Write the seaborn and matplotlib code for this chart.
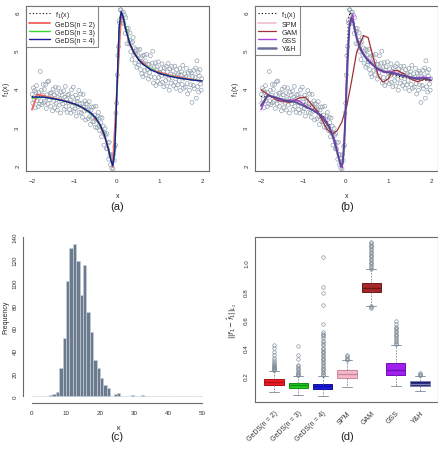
import numpy as np
import pandas as pd
import seaborn as sns
import matplotlib.pyplot as plt
from matplotlib.lines import Line2D

# ---- data ----
# simulated sample (same in panels a and b)
pt_x = [-1.995, -1.982, -1.968, -1.951, -1.937, -1.925, -1.908, -1.894, -1.881, -1.866,
        -1.852, -1.838, -1.823, -1.806, -1.795, -1.779, -1.764, -1.751, -1.735, -1.722,
        -1.708, -1.693, -1.677, -1.664, -1.649, -1.634, -1.621, -1.605, -1.591, -1.576,
        -1.562, -1.548, -1.533, -1.519, -1.504, -1.49, -1.475, -1.461, -1.447, -1.432,
        -1.418, -1.404, -1.389, -1.375, -1.36, -1.346, -1.331, -1.317, -1.302, -1.288,
        -1.274, -1.259, -1.245, -1.23, -1.216, -1.202, -1.187, -1.173, -1.158, -1.144,
        -1.13, -1.115, -1.101, -1.086, -1.072, -1.057, -1.043, -1.029, -1.014, -1.0,
        -0.986, -0.971, -0.957, -0.942, -0.928, -0.914, -0.899, -0.885, -0.87, -0.856,
        -0.841, -0.827, -0.813, -0.798, -0.784, -0.769, -0.755, -0.74, -0.726, -0.712,
        -0.697, -0.683, -0.668, -0.654, -0.64, -0.625, -0.611, -0.596, -0.582, -0.568,
        -0.553, -0.539, -0.524, -0.51, -0.496, -0.481, -0.467, -0.452, -0.438, -0.424,
        -0.409, -0.395, -0.38, -0.366, -0.352, -0.337, -0.323, -0.308, -0.294, -0.28,
        -0.265, -0.251, -0.237, -0.222, -0.208, -0.194, -0.179, -0.165, -0.151, -0.136,
        -0.122, -0.108, -0.094, -0.079, -0.065, -0.051, -0.037, -0.022, -0.008, 0.006,
        0.02, 0.035, 0.049, 0.063, 0.078, 0.092, 0.106, 0.121, 0.135, 0.15,
        0.164, 0.178, 0.193, 0.207, 0.222, 0.236, 0.25, 0.265, 0.279, 0.294,
        0.308, 0.323, 0.337, 0.351, 0.366, 0.38, 0.395, 0.409, 0.424, 0.438,
        0.453, 0.467, 0.482, 0.496, 0.51, 0.525, 0.539, 0.554, 0.568, 0.583,
        0.597, 0.611, 0.626, 0.64, 0.655, 0.669, 0.683, 0.698, 0.712, 0.727,
        0.741, 0.756, 0.77, 0.784, 0.799, 0.813, 0.828, 0.842, 0.856, 0.871,
        0.885, 0.9, 0.914, 0.929, 0.943, 0.957, 0.972, 0.986, 1.001, 1.015,
        1.03, 1.044, 1.058, 1.073, 1.087, 1.102, 1.116, 1.13, 1.145, 1.159,
        1.174, 1.188, 1.203, 1.217, 1.231, 1.246, 1.26, 1.275, 1.289, 1.303,
        1.318, 1.332, 1.347, 1.361, 1.376, 1.39, 1.404, 1.419, 1.433, 1.448,
        1.462, 1.477, 1.491, 1.505, 1.52, 1.534, 1.549, 1.563, 1.577, 1.592,
        1.606, 1.621, 1.635, 1.65, 1.664, 1.678, 1.693, 1.707, 1.722, 1.736,
        1.751, 1.764, 1.779, 1.794, 1.808, 1.822, 1.837, 1.851, 1.866, 1.88,
        1.895, 1.909, 1.923, 1.938, 1.952, 1.967, 1.981, 1.995]
pt_y = [3.85, 3.62, 4.02, 3.72, 3.95, 3.50, 3.90, 4.08, 3.68, 3.82,
        3.53, 3.90, 3.60, 4.45, 3.68, 3.96, 3.58, 3.83, 4.11, 3.63,
        3.98, 3.67, 4.11, 3.48, 3.84, 4.18, 3.60, 4.20, 3.71, 3.88,
        3.54, 3.89, 3.76, 3.42, 3.99, 3.67, 3.84, 3.50, 4.04, 3.62,
        3.89, 3.44, 3.77, 4.02, 3.57, 3.74, 3.36, 3.91, 3.68, 3.83,
        3.60, 3.94, 3.46, 3.78, 4.06, 3.53, 3.72, 3.38, 3.84, 3.64,
        3.85, 3.45, 3.71, 3.36, 3.97, 3.54, 3.78, 4.04, 3.41, 3.65,
        3.47, 3.83, 3.28, 3.67, 3.75, 3.53, 3.95, 3.38, 3.61, 3.86,
        3.36, 3.61, 3.25, 3.85, 3.51, 3.41, 3.68, 3.18, 3.60, 3.44,
        3.59, 3.21, 3.46, 3.66, 3.27, 3.06, 3.44, 3.52, 3.25, 3.13,
        3.52, 3.14, 3.31, 2.99, 3.54, 3.20, 2.98, 3.28, 3.38, 3.02,
        2.90, 3.25, 3.11, 2.74, 3.23, 2.86, 3.02, 2.52, 2.84, 2.96,
        2.78, 2.43, 2.82, 2.42, 2.58, 2.15, 2.60, 2.27, 2.01, 2.27,
        1.92, 2.16, 1.90, 2.27, 2.12, 2.48, 2.52, 3.36, 3.62, 4.36,
        4.87, 5.10, 5.78, 5.72, 6.06, 6.07, 5.88, 6.01, 5.71, 6.00,
        5.72, 5.92, 5.45, 5.86, 5.58, 5.18, 5.50, 5.58, 5.17, 5.27,
        5.46, 4.97, 5.19, 4.76, 5.22, 5.34, 4.88, 5.07, 4.67, 4.91,
        5.03, 4.56, 4.89, 5.01, 4.62, 4.70, 5.03, 4.50, 4.81, 4.39,
        4.86, 4.31, 4.68, 4.88, 4.48, 4.73, 4.36, 4.90, 4.50, 4.63,
        4.25, 4.64, 4.42, 4.86, 4.31, 4.52, 4.67, 4.98, 4.15, 4.55,
        4.29, 4.68, 4.08, 4.49, 4.57, 4.19, 4.70, 4.30, 4.42, 4.13,
        4.52, 4.34, 4.65, 4.17, 4.45, 4.05, 4.54, 4.35, 4.21, 4.58,
        4.07, 4.44, 4.66, 4.25, 3.96, 4.52, 4.38, 4.14, 4.58, 4.28,
        4.46, 4.08, 4.34, 4.59, 4.17, 4.01, 4.50, 4.36, 4.10, 4.39,
        4.21, 4.53, 3.95, 4.36, 4.44, 4.11, 4.61, 4.01, 4.27, 4.39,
        4.04, 4.31, 4.53, 4.13, 3.86, 4.41, 4.28, 3.96, 4.46, 4.10,
        4.41, 3.64, 4.32, 4.08, 4.48, 4.00, 4.30, 4.54, 3.75, 4.73,
        4.05, 4.43, 3.91, 4.33, 4.50, 4.12, 3.96, 4.26]

# true function f1(x)
true_x = [-2, -1.75, -1.5, -1.25, -1, -0.8, -0.6, -0.5, -0.4, -0.3, -0.25, -0.2, -0.15,
          -0.125, -0.1, -0.075, -0.05, -0.025, 0, 0.025, 0.05, 0.075, 0.1, 0.125, 0.15,
          0.2, 0.25, 0.3, 0.4, 0.5, 0.6, 0.8, 1, 1.25, 1.5, 1.75, 2]
true_y = [3.80, 3.77, 3.735, 3.68, 3.604, 3.508, 3.351, 3.231, 3.059, 2.80, 2.621, 2.40, 2.154,
          2.049, 2.0, 2.08, 2.40, 3.059, 4.0, 4.941, 5.60, 5.92, 6.0, 5.951, 5.846,
          5.60, 5.379, 5.20, 4.941, 4.769, 4.649, 4.492, 4.396, 4.318, 4.265, 4.228, 4.20]

# GeDS fits
geds2_x = [-2, -1.88, -1.8, -1.3, -0.9, -0.6, -0.4, -0.25, -0.17, -0.1, 0.1, 0.2, 0.3, 0.5, 0.8, 1.2, 1.6, 2.0]
geds2_y = [3.45, 3.84, 3.83, 3.70, 3.55, 3.35, 3.05, 2.62, 2.30, 1.95, 6.0, 5.6, 5.15, 4.78, 4.50, 4.36, 4.27, 4.20]
geds3_x = [-2, -1.7, -1.2, -0.8, -0.5, -0.3, -0.2, -0.15, -0.1, -0.05, 0, 0.05, 0.1, 0.15, 0.2, 0.3, 0.4, 0.6, 1.0, 1.5, 2]
geds3_y = [3.75, 3.78, 3.67, 3.50, 3.24, 2.82, 2.42, 2.17, 1.98, 2.35, 4.0, 5.6, 6.0, 5.88, 5.65, 5.2, 4.93, 4.64, 4.40, 4.27, 4.20]
geds4_x = [-2, -1.75, -1.5, -1.25, -1, -0.8, -0.6, -0.5, -0.4, -0.3, -0.2, -0.15, -0.1, -0.05, 0,
           0.05, 0.1, 0.15, 0.2, 0.3, 0.4, 0.5, 0.6, 0.8, 1, 1.25, 1.5, 1.75, 2]
geds4_y = [3.78, 3.78, 3.74, 3.68, 3.60, 3.50, 3.35, 3.23, 3.06, 2.80, 2.40, 2.15, 1.98, 2.40, 4.0,
           5.6, 6.02, 5.85, 5.58, 5.18, 4.94, 4.77, 4.65, 4.49, 4.40, 4.32, 4.27, 4.23, 4.20]

# competitor fits
spm_x = [-2, -1.8, -1.5, -1.2, -1.0, -0.8, -0.6, -0.4, -0.3, -0.2, -0.12, -0.08, -0.04, 0, 0.04,
         0.08, 0.12, 0.17, 0.25, 0.35, 0.5, 0.7, 0.9, 1.1, 1.3, 1.5, 1.7, 1.85, 2.0]
spm_y = [3.60, 3.82, 3.72, 3.66, 3.58, 3.48, 3.30, 3.00, 2.75, 2.35, 2.00, 2.05, 2.60, 3.80, 5.0,
         5.75, 5.90, 5.75, 5.35, 5.02, 4.78, 4.57, 4.47, 4.42, 4.36, 4.30, 4.26, 4.27, 4.22]
gam_x = [-2, -1.8, -1.61, -1.34, -1.07, -0.95, -0.68, -0.45, -0.33, -0.21, -0.1, 0.02, 0.14, 0.25,
         0.41, 0.52, 0.64, 0.76, 0.87, 0.99, 1.11, 1.22, 1.38, 1.53, 1.69, 1.84, 2.0]
gam_y = [3.97, 3.82, 3.69, 3.64, 3.77, 3.77, 3.42, 2.94, 2.81, 2.90, 3.12, 3.55, 4.25, 4.95,
         5.39, 5.34, 4.82, 4.34, 4.17, 4.25, 4.47, 4.47, 4.38, 4.25, 4.18, 4.25, 4.21]
gss_x = [-2, -1.85, -1.7, -1.5, -1.3, -1.1, -0.9, -0.7, -0.5, -0.35, -0.25, -0.18, -0.12, -0.09,
         -0.06, -0.03, 0, 0.04, 0.08, 0.12, 0.16, 0.2, 0.25, 0.32, 0.45, 0.6, 0.75, 0.9, 1.05,
         1.2, 1.4, 1.6, 1.8, 2.0]
gss_y = [3.45, 3.82, 3.78, 3.68, 3.70, 3.68, 3.50, 3.40, 3.22, 2.90, 2.60, 2.25, 1.95, 1.92,
         2.20, 2.90, 3.90, 5.00, 5.70, 5.85, 5.95, 5.55, 5.30, 5.10, 4.85, 4.68, 4.50, 4.42, 4.45,
         4.40, 4.33, 4.28, 4.30, 4.28]
yh_x = [-2, -1.84, -1.6, -1.4, -1.2, -1.0, -0.8, -0.6, -0.4, -0.3, -0.2, -0.12, -0.08, -0.04, 0,
        0.04, 0.08, 0.13, 0.18, 0.25, 0.35, 0.5, 0.7, 0.9, 1.1, 1.3, 1.5, 1.7, 1.85, 2.0]
yh_y = [3.55, 3.83, 3.75, 3.68, 3.65, 3.55, 3.45, 3.30, 3.00, 2.70, 2.30, 1.98, 2.05, 2.60, 3.60,
        4.70, 5.60, 5.85, 5.70, 5.35, 5.00, 4.75, 4.55, 4.45, 4.40, 4.35, 4.30, 4.25, 4.28, 4.22]

# histogram of number of knots (bins of width 1 from 0 to 50)
hist_start = list(range(0, 50))
hist_counts = [0, 0, 0, 0, 0, 1, 2, 4, 25, 51,
               101, 130, 134, 119, 89, 115, 74, 56, 32, 25,
               16, 10, 7, 0, 2, 3, 0, 0, 0, 1,
               0, 0, 1, 0, 0, 0, 0, 0, 0, 0,
               0, 0, 0, 0, 0, 0, 0, 0, 0, 0]

# L2 distance boxplots
box_names = ['GeDS(n = 2)', 'GeDS(n = 3)', 'GeDS(n = 4)', 'SPM', 'GAM', 'GSS', 'Y&H']
box_q1 = [0.136, 0.112, 0.108, 0.188, 0.792, 0.207, 0.131]
box_med = [0.160, 0.134, 0.127, 0.214, 0.820, 0.243, 0.146]
box_q3 = [0.181, 0.153, 0.146, 0.240, 0.856, 0.295, 0.165]
box_lo = [0.089, 0.065, 0.060, 0.122, 0.699, 0.131, 0.094]
box_hi = [0.235, 0.200, 0.200, 0.311, 0.957, 0.420, 0.200]
out_geds2 = [0.24, 0.245, 0.25, 0.255, 0.26, 0.265, 0.27, 0.275, 0.28, 0.29, 0.30, 0.31, 0.33, 0.35, 0.37, 0.40, 0.42]
out_geds3 = [0.205, 0.21, 0.215, 0.22, 0.23, 0.24, 0.25, 0.26, 0.27, 0.28, 0.32, 0.35, 0.41]
out_geds4 = [0.205, 0.21, 0.22, 0.23, 0.24, 0.25, 0.26, 0.27, 0.28, 0.29, 0.30, 0.31, 0.32, 0.33,
             0.34, 0.35, 0.36, 0.37, 0.38, 0.39, 0.40, 0.42, 0.43, 0.44, 0.45, 0.47, 0.48, 0.49,
             0.50, 0.51, 0.57, 0.70, 0.79, 0.83, 1.04]
out_spm = [0.315, 0.32, 0.33, 0.34, 0.35]
out_gam = [0.68, 0.69, 0.695, 0.96, 0.97, 0.98, 0.99, 1.0, 1.01, 1.02, 1.03, 1.04, 1.05, 1.06,
           1.07, 1.08, 1.09, 1.10, 1.11, 1.12, 1.13, 1.14, 1.15]
out_gss = [0.425, 0.43, 0.44, 0.45, 0.46, 0.47, 0.48, 0.49, 0.50, 0.51, 0.52, 0.53, 0.54, 0.55, 0.57, 0.59]
out_yh = [0.205, 0.21, 0.215, 0.22]
box_colors = ['#ee1c24', '#22cc22', '#1a1ae6', '#f4b8c8', '#a5282c', '#a020f0', '#1c1c72']
box_edges = ['#b01018', '#129012', '#10109a', '#c88a9a', '#701818', '#7010b0', '#8080b0']

sns.set_theme(style='white')
plt.rcParams['font.family'] = ['Liberation Sans', 'DejaVu Sans']
plt.rcParams['mathtext.fontset'] = 'dejavusans'

W, H = 438, 452
fig = plt.figure(figsize=(W / 100, H / 100), dpi=100)


def px_box(l, t, r, b):
    return [l / W, 1 - b / H, (r - l) / W, (b - t) / H]


tick_kw = dict(labelsize=4.5, length=2.2, width=0.5, color='#555555', labelcolor='#333333')
pt_color = '#8d9cab'


def style_frame(ax):
    for s in ax.spines.values():
        s.set_color('#6a6a6a')
        s.set_linewidth(0.8)
    ax.tick_params(axis='both', **tick_kw)
    ax.tick_params(axis='x', pad=3)
    ax.tick_params(axis='y', pad=2)
    for lab in ax.get_yticklabels():
        lab.set_rotation(90)
        lab.set_va('center')


def sample_panel(ax):
    sns.scatterplot(x=pt_x, y=pt_y, ax=ax, marker='o', s=8, facecolor='none',
                    edgecolor=pt_color, linewidth=0.45, zorder=1)
    ax.set_xlim(-2.141, 2.165)
    ax.set_ylim(1.843, 6.165)
    ax.set_xticks([-2, -1, 0, 1, 2])
    ax.set_yticks([2, 3, 4, 5, 6])
    ax.set_xlabel('x', fontsize=5, labelpad=6)
    ax.set_ylabel('f$_1$(x)', fontsize=5, labelpad=2)
    style_frame(ax)


# (a) GeDS fits
ax_a = fig.add_axes(px_box(26, 7, 209, 172))
sample_panel(ax_a)
sns.lineplot(x=true_x, y=true_y, ax=ax_a, color='black', lw=0.8, ls=(0, (1, 2)), zorder=2)
sns.lineplot(x=geds2_x, y=geds2_y, ax=ax_a, color='#f26060', lw=1.3, zorder=3)
sns.lineplot(x=geds3_x, y=geds3_y, ax=ax_a, color='#30d830', lw=1.0, zorder=4)
sns.lineplot(x=geds4_x, y=geds4_y, ax=ax_a, color='#1a1aa0', lw=1.0, zorder=5)
h_a = [Line2D([], [], color='black', lw=0.8, ls=(0, (1, 2))),
       Line2D([], [], color='#f26060', lw=1.3),
       Line2D([], [], color='#30d830', lw=1.0),
       Line2D([], [], color='#1a1aa0', lw=1.0)]
leg = ax_a.legend(h_a, ['f$_1$(x)', 'GeDS(n = 2)', 'GeDS(n = 3)', 'GeDS(n = 4)'],
                  loc='upper left', fontsize=5, frameon=True, fancybox=False, borderaxespad=0,
                  handlelength=3, labelspacing=0.15, borderpad=0.4, handletextpad=0.8)
leg.get_frame().set_edgecolor('#6a6a6a')
leg.get_frame().set_linewidth(0.8)

# (b) competitors
ax_b = fig.add_axes(px_box(255, 7, 438, 172))
sample_panel(ax_b)
sns.lineplot(x=true_x, y=true_y, ax=ax_b, color='black', lw=0.8, ls=(0, (1, 2)), zorder=2)
sns.lineplot(x=spm_x, y=spm_y, ax=ax_b, color='#f2c2cf', lw=1.3, zorder=3)
sns.lineplot(x=gam_x, y=gam_y, ax=ax_b, color='#a23038', lw=0.9, zorder=4)
sns.lineplot(x=gss_x, y=gss_y, ax=ax_b, color='#a545dc', lw=1.0, zorder=5)
sns.lineplot(x=yh_x, y=yh_y, ax=ax_b, color='#45458c', lw=1.4, alpha=0.85, zorder=6)
h_b = [Line2D([], [], color='black', lw=0.8, ls=(0, (1, 2))),
       Line2D([], [], color='#f2c2cf', lw=1.3),
       Line2D([], [], color='#a23038', lw=0.9),
       Line2D([], [], color='#a545dc', lw=1.0),
       Line2D([], [], color='#6e6e9c', lw=1.8)]
leg = ax_b.legend(h_b, ['f$_1$(x)', 'SPM', 'GAM', 'GSS', 'Y&H'],
                  loc='upper left', fontsize=5, frameon=True, fancybox=False, borderaxespad=0,
                  handlelength=2.6, labelspacing=0.15, borderpad=0.4, handletextpad=0.8)
leg.get_frame().set_edgecolor('#6a6a6a')
leg.get_frame().set_linewidth(0.8)

# (c) histogram of knots
ax_c = fig.add_axes(px_box(26, 235, 210, 400))
hist_mid = [s + 0.5 for s in hist_start]
sns.histplot(x=hist_mid, weights=hist_counts, bins=hist_start + [50], ax=ax_c,
             color='#6b7a8c', edgecolor='#c4d0dc', linewidth=0.45, alpha=1)
ax_c.set_xlim(-1.76, 52.35)
ax_c.set_ylim(-2.6, 142.6)
ax_c.set_xticks([0, 10, 20, 30, 40, 50])
ax_c.set_yticks([0, 20, 40, 60, 80, 100, 120, 140])
for side in ['top', 'right']:
    ax_c.spines[side].set_visible(False)
ax_c.spines['left'].set_position(('outward', 2))
ax_c.spines['bottom'].set_position(('outward', 3))
ax_c.spines['left'].set_bounds(0, 140)
ax_c.spines['bottom'].set_bounds(0, 50)
ax_c.set_xlabel('κ', fontsize=5, labelpad=6)
ax_c.set_ylabel('Frequency', fontsize=5, labelpad=2)
style_frame(ax_c)

# (d) boxplots
ax_d = fig.add_axes(px_box(255, 238, 438, 403))
fliers = [out_geds2, out_geds3, out_geds4, out_spm, out_gam, out_gss, out_yh]
stats = []
for i, name in enumerate(box_names):
    stats.append(dict(label=name, q1=box_q1[i], med=box_med[i], q3=box_q3[i],
                      whislo=box_lo[i], whishi=box_hi[i], fliers=fliers[i]))
bp = ax_d.bxp(stats, positions=range(len(box_names)), widths=0.8, patch_artist=True,
              showfliers=True, manage_ticks=False,
              whiskerprops=dict(color='#7a8896', lw=0.6, ls=(0, (2, 1.5))),
              capprops=dict(color='#7a8896', lw=0.6),
              flierprops=dict(marker='o', markersize=2.5, markerfacecolor='none',
                              markeredgecolor='#7a8896', markeredgewidth=0.45))
for i, patch in enumerate(bp['boxes']):
    patch.set_facecolor(box_colors[i])
    patch.set_edgecolor(box_edges[i])
    patch.set_linewidth(0.7)
    bp['medians'][i].set_color(box_edges[i])
    bp['medians'][i].set_linewidth(1.0)
ax_d.set_xlim(-0.78, 6.74)
ax_d.set_ylim(0.016, 1.184)
ax_d.set_yticks([0.2, 0.4, 0.6, 0.8, 1.0])
ax_d.set_xticks(range(len(box_names)))
ax_d.set_xticklabels(box_names, rotation=45, ha='right', rotation_mode='anchor')
ax_d.set_ylabel(r'$||f_1-\hat{f}_1||_{L_2}$', fontsize=5, labelpad=4)
style_frame(ax_d)
ax_d.tick_params(axis='x', labelsize=5)

for txt, x, y in [('(a)', 117, 207), ('(b)', 347, 207), ('(c)', 117, 437), ('(d)', 347, 437)]:
    fig.text(x / W, 1 - y / H, txt, fontsize=8, ha='center', va='center', color='#222222')

fig.savefig('out.png', dpi=100)
